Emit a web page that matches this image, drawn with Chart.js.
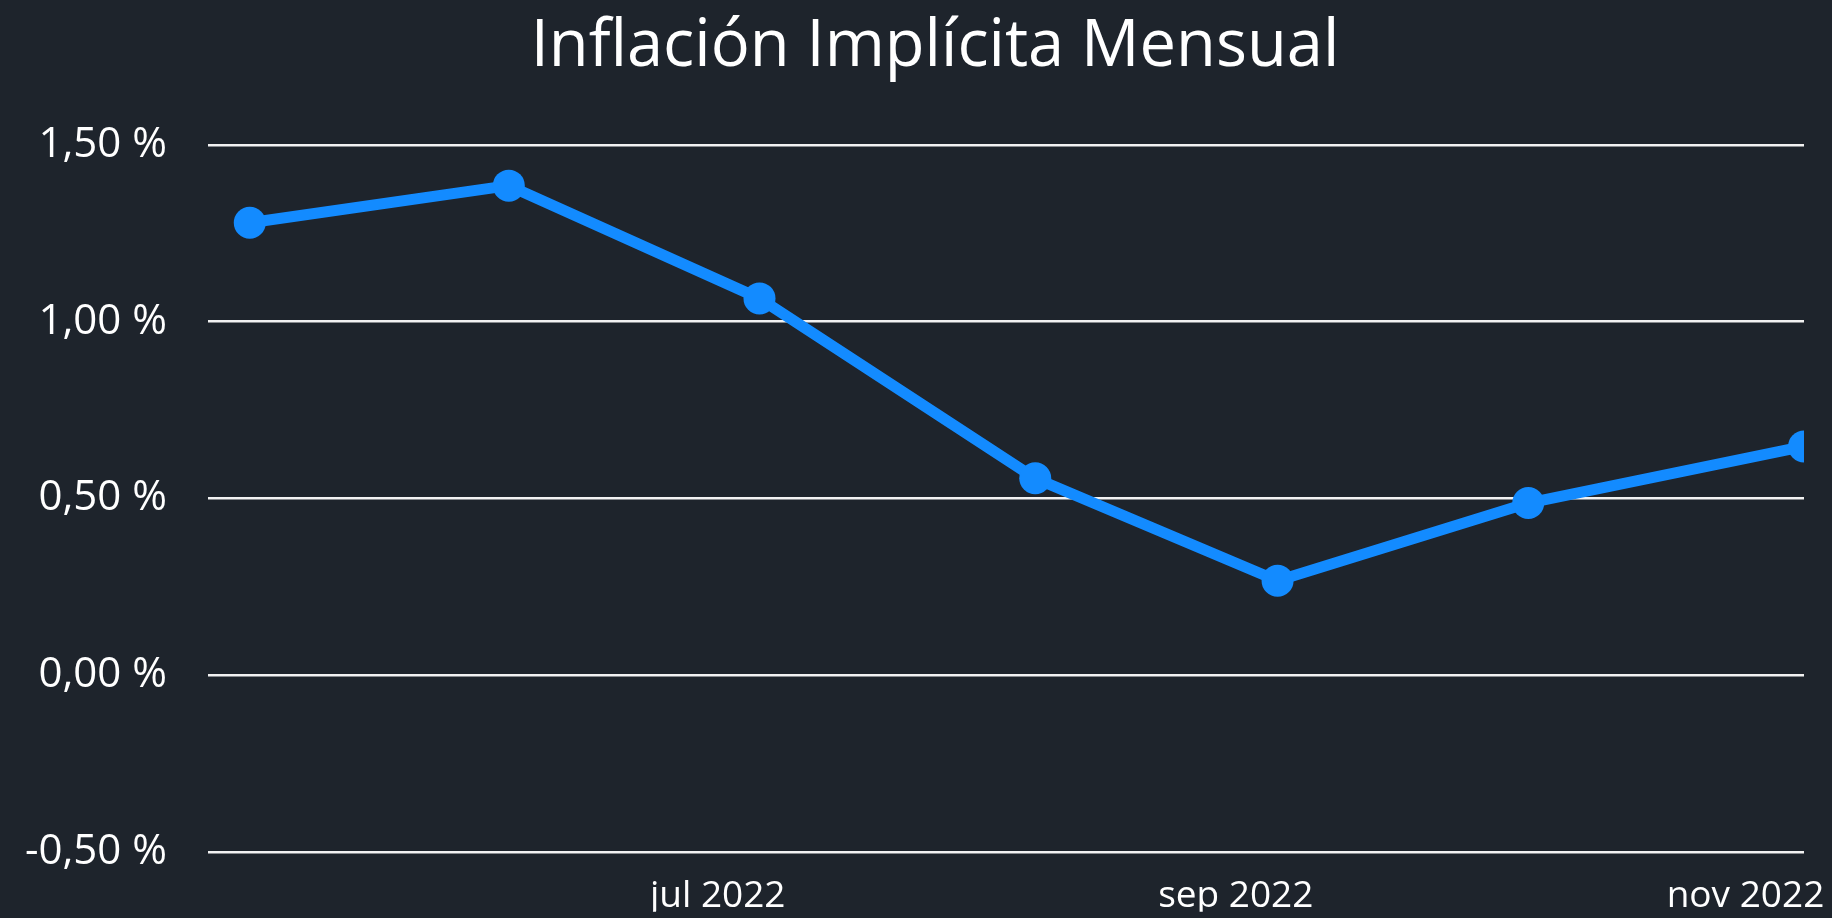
<!DOCTYPE html>
<html>
<head>
    <title>Inflación Implícita Mensual</title>
    <script src="https://cdn.jsdelivr.net/npm/chart.js"></script>
    <style>
        html, body {margin: 0; padding: 0; background: #1e242c;}
        #wrap {position: relative; width: 1832px; height: 918px;}
        #titulo {
            position: absolute; top: 9px; left: 0; width: 1870px; margin: 0;
            text-align: center; color: #ffffff;
            font: normal 65px/65px 'Open Sans', sans-serif;
        }
    </style>
</head>
<body>
    <div id="wrap">
        <canvas id="myChart"></canvas>
        <p id="titulo">Inflación Implícita Mensual</p>
    </div>
    <script>
        // dates of each observation and the monthly implicit inflation (%)
        var fechas = ['2022-05-06', '2022-06-06', '2022-07-06', '2022-08-08', '2022-09-06', '2022-10-06', '2022-11-08'];
        var inflacion = [1.28, 1.385, 1.066, 0.557, 0.267, 0.487, 0.647];

        // x axis range and month ticks
        var xInicio = '2022-05-01';
        var tickFechas = ['2022-07-01', '2022-09-01', '2022-11-01'];
        var tickLabels = ['jul 2022', 'sep 2022', 'nov 2022'];

        // y axis ticks
        var yTicks = [-0.5, 0, 0.5, 1, 1.5];

        function dia(s) {
            var p = s.split('-');
            return Date.UTC(+p[0], +p[1] - 1, +p[2]) / 86400000;
        }

        var puntos = fechas.map(function(f, i) {
            return {x: dia(f), y: inflacion[i]};
        });
        var tickDias = tickFechas.map(dia);

        var ctx = document.getElementById('myChart').getContext('2d');
        new Chart(ctx, {
            type: 'line',
            data: {
                datasets: [{
                    label: 'Inflación Implícita Mensual',
                    data: puntos,
                    borderColor: '#138bff',
                    backgroundColor: '#138bff',
                    borderWidth: 11,
                    pointRadius: 16,
                    pointHoverRadius: 16,
                    pointBorderWidth: 0,
                    tension: 0,
                    clip: 0
                }]
            },
            options: {
                responsive: true,
                maintainAspectRatio: false,
                animation: false,
                layout: {
                    padding: {left: 0, right: 28, top: 145, bottom: 0}
                },
                plugins: {
                    legend: {display: false},
                    tooltip: {enabled: false},
                    title: {display: false}
                },
                scales: {
                    x: {
                        type: 'linear',
                        min: dia(xInicio),
                        max: dia(fechas[fechas.length - 1]),
                        afterBuildTicks: function(axis) {
                            axis.ticks = tickDias.map(function(v) { return {value: v}; });
                        },
                        afterFit: function(axis) {
                            axis.height = 60;
                            axis.paddingLeft = 0;
                            axis.paddingRight = 0;
                        },
                        grid: {display: false, drawTicks: false},
                        border: {display: false},
                        ticks: {
                            color: '#ffffff',
                            padding: 22,
                            maxRotation: 0,
                            autoSkip: false,
                            font: {family: 'Open Sans', size: 37},
                            callback: function(value) {
                                var i = tickDias.indexOf(value);
                                return i >= 0 ? tickLabels[i] : '';
                            }
                        }
                    },
                    y: {
                        min: yTicks[0],
                        max: yTicks[yTicks.length - 1],
                        afterBuildTicks: function(axis) {
                            axis.ticks = yTicks.map(function(v) { return {value: v}; });
                        },
                        afterFit: function(axis) {
                            axis.width = 208;
                            axis.paddingTop = 0;
                        },
                        grid: {color: '#f2f2f2', lineWidth: 2.5, drawTicks: false},
                        border: {display: false},
                        ticks: {
                            color: '#ffffff',
                            padding: 41,
                            font: {family: 'Open Sans', size: 42},
                            callback: function(value) {
                                return value.toFixed(2).replace('.', ',') + ' %';
                            }
                        }
                    }
                }
            }
        });
    </script>
</body>
</html>
